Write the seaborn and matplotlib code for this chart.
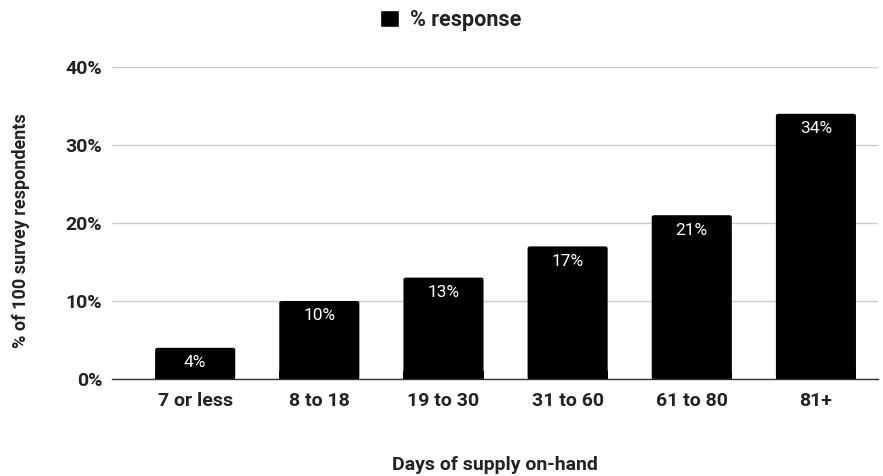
import matplotlib
matplotlib.use("Agg")
import matplotlib.pyplot as plt
from matplotlib.patches import FancyBboxPatch, Rectangle
import seaborn as sns
import pandas as pd

categories = ["7 or less", "8 to 18", "19 to 30", "31 to 60", "61 to 80", "81+"]
response_pct = [4, 10, 13, 17, 21, 34]
y_ticks = [0, 10, 20, 30, 40]
series_name = "% response"

sns.set_theme(style="white")
plt.rcParams["font.family"] = ["Roboto", "DejaVu Sans"]

TEXT = "#222222"
df = pd.DataFrame({"days": categories, "pct": response_pct})

W, H = 883, 476
fig = plt.figure(figsize=(W / 100, H / 100), dpi=100)
ax = fig.add_axes([112 / W, 1 - 379 / H, (878 - 112) / W, (379 - 67) / H])

sns.barplot(data=df, x="days", y="pct", color="black", width=0.645,
            saturation=1, ax=ax, zorder=3)

# replace the plain bars with slightly rounded-top versions
for patch in list(ax.patches):
    x, w, h = patch.get_x(), patch.get_width(), patch.get_height()
    patch.set_visible(False)
    ax.add_patch(FancyBboxPatch((x, 0), w, h,
                                boxstyle="round,pad=0,rounding_size=0.02",
                                mutation_aspect=12,
                                facecolor="black", edgecolor="none", zorder=3))
    ax.add_patch(Rectangle((x, 0), w, min(h, 1.0), facecolor="black",
                           edgecolor="none", zorder=3))

for i, v in enumerate(response_pct):
    ax.text(i, v - 2.5, f"{v}%", ha="center", va="baseline", color="white",
            fontsize=12.5, zorder=4)

ax.set_xlim(-0.67, 5.5)
ax.set_ylim(0, 40)
ax.set_yticks(y_ticks)
ax.set_yticklabels([f"{t}%" for t in y_ticks], fontsize=14, fontweight="bold",
                   color=TEXT)
ax.set_xticks(range(len(categories)))
ax.set_xticklabels(categories, fontsize=14, fontweight="bold", color=TEXT)
ax.tick_params(axis="y", length=0, pad=7)
ax.tick_params(axis="x", length=0, pad=9)

ax.grid(axis="y", color="#cccccc", linewidth=1, zorder=0)
ax.grid(axis="x", visible=False)
for side in ["top", "right", "left"]:
    ax.spines[side].set_visible(False)
ax.spines["bottom"].set_color("#333333")
ax.spines["bottom"].set_linewidth(1)
ax.spines["bottom"].set_zorder(5)

ax.set_xlabel("")
ax.set_ylabel("")
fig.text(495 / W, 1 - 465 / H, "Days of supply on-hand", ha="center", va="center",
         fontsize=14, fontweight="bold", color=TEXT)
fig.text(21 / W, 1 - 231 / H, "% of 100 survey respondents", ha="center",
         va="center", rotation=90, fontsize=13, fontweight="bold", color=TEXT)

handle = Rectangle((0, 0), 1, 1, facecolor="black")
fig.legend([handle], [series_name], loc="center",
           bbox_to_anchor=(451 / W, 1 - 20 / H),
           frameon=False, handlelength=0.85, handleheight=0.85, handletextpad=0.55,
           prop={"weight": "bold", "size": 15.5, "family": ["Roboto", "DejaVu Sans"]},
           labelcolor=TEXT)

fig.savefig("out.png", dpi=100, facecolor="white")
